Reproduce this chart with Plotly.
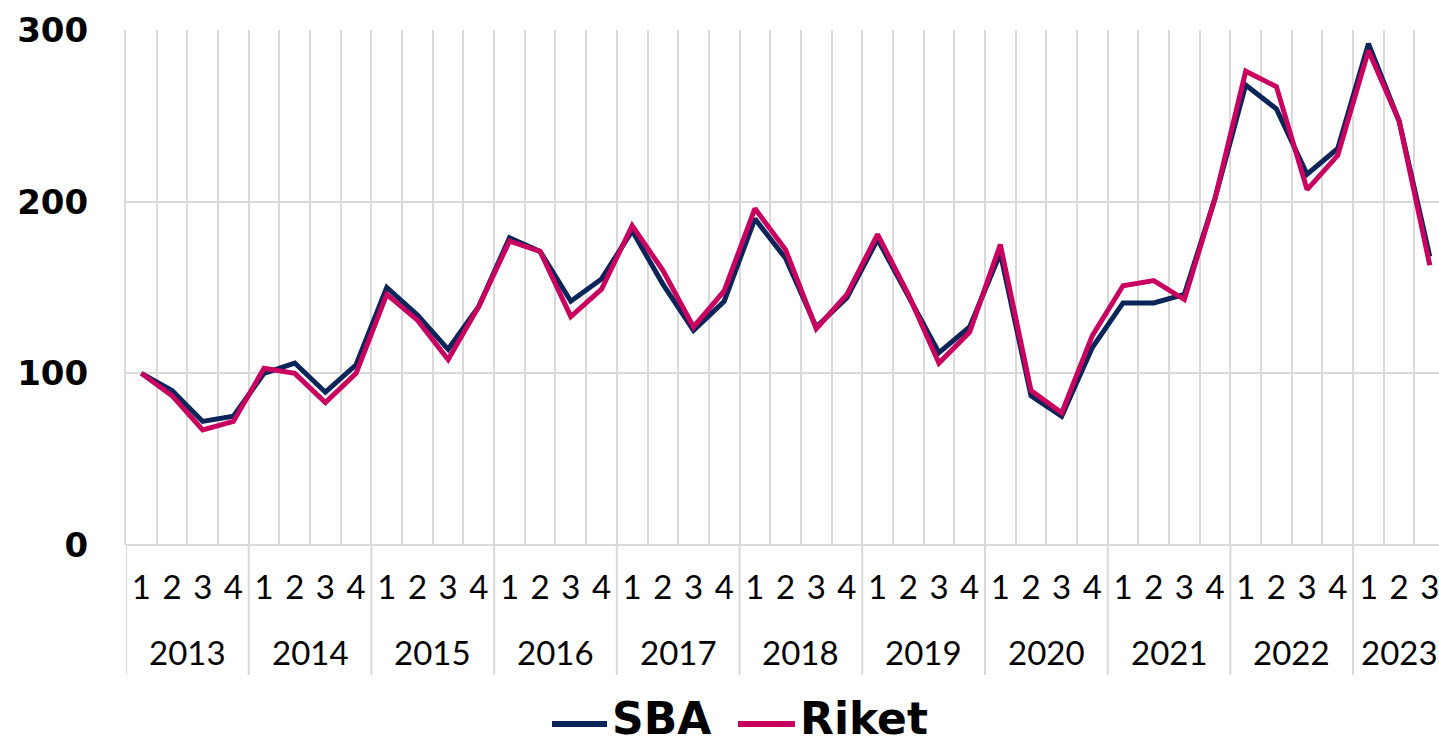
import plotly.graph_objects as go

years = (["2013"] * 4 + ["2014"] * 4 + ["2015"] * 4 + ["2016"] * 4 + ["2017"] * 4 +
         ["2018"] * 4 + ["2019"] * 4 + ["2020"] * 4 + ["2021"] * 4 + ["2022"] * 4 + ["2023"] * 3)
quarters = ["1", "2", "3", "4"] * 10 + ["1", "2", "3"]

series_names = ["SBA", "Riket"]
sba = [100, 90, 72, 75, 100, 106, 89, 105, 150, 134, 114, 139, 179, 171, 142, 155,
       183, 152, 125, 142, 190, 167, 127, 144, 178, 145, 112, 127, 170, 87, 75, 115,
       141, 141, 146, 202, 268, 254, 216, 231, 292, 247, 168]
riket = [100, 87, 67, 72, 103, 100, 83, 100, 146, 131, 108, 139, 177, 171, 133, 149,
         186, 160, 127, 148, 196, 172, 126, 146, 181, 146, 106, 124, 175, 90, 77, 122,
         151, 154, 143, 202, 276, 267, 207, 227, 288, 247, 163]
y_ticks = [0, 100, 200, 300]

colors = ["#0b2559", "#c8005f"]
grid = "#d9d9d9"

# unique category keys, one per quarter
cats = [f"{y}-{q}" for y, q in zip(years, quarters)]

fig = go.Figure()
for name, vals, col in zip(series_names, [sba, riket], colors):
    fig.add_trace(go.Scatter(x=cats, y=vals, name=name, mode="lines",
                             line=dict(color=col, width=5), showlegend=False))

fig.update_layout(
    width=1439, height=745,
    margin=dict(l=126, r=0, t=30, b=200),
    plot_bgcolor="white", paper_bgcolor="white",
    xaxis=dict(type="category", categoryorder="array", categoryarray=cats,
               range=[-0.5, 42.3], tickson="boundaries",
               tickmode="array", tickvals=cats, ticktext=quarters,
               showgrid=True, gridcolor=grid, gridwidth=2,
               ticks="", ticklabelstandoff=20,
               tickfont=dict(family="Lato", size=33, color="black")),
    yaxis=dict(range=[0, 300], tickvals=y_ticks, showgrid=True, gridcolor=grid, gridwidth=2,
               zeroline=True, zerolinecolor=grid, zerolinewidth=2,
               showline=True, linecolor=grid, linewidth=2,
               ticklabelstandoff=29,
               tickfont=dict(family="DejaVu Sans", size=34, color="black", weight="bold")),
)


def px_y(p):
    return (545 - p) / 515.0


def px_x(p):
    return (p - 126) / 1313.0


# year group labels and dividers below the quarter labels
year_list = []
for y in years:
    if y not in year_list:
        year_list.append(y)
start = 0
for y in year_list:
    n = years.count(y)
    fig.add_shape(type="line", xref="x", yref="paper", x0=start - 0.5, x1=start - 0.5,
                  y0=0, y1=px_y(675), line=dict(color=grid, width=2))
    fig.add_annotation(xref="x", yref="paper", x=start + (n - 1) / 2.0, y=px_y(652),
                       text=y, showarrow=False, xanchor="center", yanchor="middle",
                       font=dict(family="Lato", size=33, color="black"))
    start += n

# custom legend below the chart
legend_items = [(552, 607, 611), (738, 795, 799)]
for (x0, x1, tx), name, col in zip(legend_items, series_names, colors):
    fig.add_shape(type="line", xref="paper", yref="paper", x0=px_x(x0), x1=px_x(x1),
                  y0=px_y(724), y1=px_y(724), line=dict(color=col, width=6))
    fig.add_annotation(xref="paper", yref="paper", x=px_x(tx), y=px_y(744.5), text=name,
                       showarrow=False, xanchor="left", yanchor="bottom", borderpad=0,
                       font=dict(family="DejaVu Sans", size=44, color="black", weight="bold"))

fig.write_html("out.html", config={"displayModeBar": False},
               post_script="document.body.style.margin='0';")
